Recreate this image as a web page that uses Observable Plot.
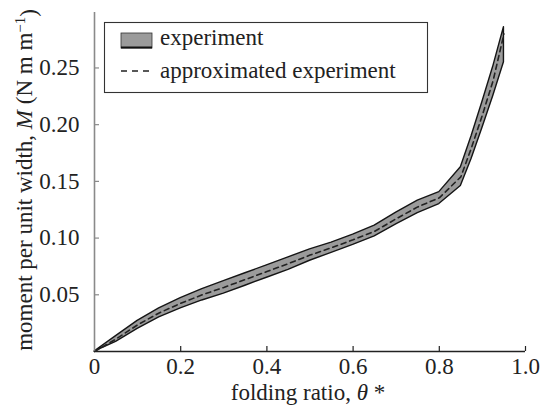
<!DOCTYPE html>
<html>
<head>
<meta charset="utf-8">
<script src="https://cdn.jsdelivr.net/npm/d3@7"></script>
<script src="https://cdn.jsdelivr.net/npm/@observablehq/plot@0.6"></script>
<style>
  html, body { margin: 0; padding: 0; background: #fff; }
  #chart svg { display: block; }
</style>
</head>
<body>
<div id="chart"></div>
<script>
// folding ratio θ*
const theta = [0, 0.05, 0.1, 0.15, 0.2, 0.25, 0.3, 0.35, 0.4, 0.45, 0.5, 0.55, 0.6, 0.65, 0.7, 0.75, 0.8, 0.85, 0.875, 0.9, 0.925, 0.95];
// experiment band, upper and lower bounds (N m m^-1)
const upper = [0, 0.0135, 0.027, 0.038, 0.047, 0.055, 0.062, 0.069, 0.076, 0.083, 0.090, 0.096, 0.103, 0.111, 0.1225, 0.133, 0.1405, 0.1625, 0.190, 0.220, 0.251, 0.286];
const lower = [0, 0.0085, 0.020, 0.030, 0.038, 0.045, 0.051, 0.058, 0.065, 0.072, 0.080, 0.087, 0.094, 0.1015, 0.112, 0.122, 0.130, 0.146, 0.170, 0.197, 0.225, 0.255];
// approximated experiment
const approx = [0, 0.011, 0.0235, 0.034, 0.0425, 0.050, 0.0565, 0.0635, 0.0705, 0.0775, 0.085, 0.0915, 0.0985, 0.106, 0.117, 0.1275, 0.1355, 0.154, 0.180, 0.2085, 0.239, 0.280];

const xTicks = [0, 0.2, 0.4, 0.6, 0.8, 1.0];
const xTickLabels = ["0", "0.2", "0.4", "0.6", "0.8", "1.0"];
const yTicks = [0.05, 0.10, 0.15, 0.20, 0.25];
const yTickLabels = ["0.05", "0.10", "0.15", "0.20", "0.25"];

const legendLabels = ["experiment", "approximated experiment"];

const data = theta.map((t, i) => ({t, lo: lower[i], hi: upper[i], mid: approx[i]}));

const W = 540, H = 410;
const mL = 94, mR = 15, mT = 12, mB = 59;
const plotH = H - mT - mB;
const font = "'Liberation Serif', 'Times New Roman', serif";
const fs = 23;

const chart = Plot.plot({
  width: W,
  height: H,
  marginLeft: mL,
  marginRight: mR,
  marginTop: mT,
  marginBottom: mB,
  style: {fontFamily: font, fontSize: fs + "px", color: "#222", background: "#fff"},
  x: {domain: [0, 1], label: null},
  y: {domain: [0, 0.2989], label: null},
  marks: [
    Plot.areaY(data, {x: "t", y1: "lo", y2: "hi", fill: "#9b9b9b", stroke: "#151515", strokeWidth: 1.4, strokeLinejoin: "round", curve: "linear"}),
    Plot.line(data, {x: "t", y: "mid", stroke: "#222", strokeWidth: 1.6, strokeDasharray: "5,4"}),
    Plot.ruleX([0], {stroke: "#8a8a8a", strokeWidth: 1.6}),
    Plot.ruleY([0], {stroke: "#222", strokeWidth: 1.4}),
    Plot.ruleX(xTicks.slice(1), {x: d => d, stroke: "#222", strokeWidth: 1.2, insetTop: plotH - 5}),
    Plot.ruleY(yTicks, {y: d => d, stroke: "#8a8a8a", strokeWidth: 1.2, insetRight: (W - mL - mR) - 5}),
    Plot.axisX(xTicks, {tickSize: 0, tickPadding: 6, tickFormat: (d, i) => xTickLabels[i], fontSize: fs, fill: "#222", label: null}),
    Plot.axisY(yTicks, {tickSize: 0, tickPadding: 15, tickFormat: (d, i) => yTickLabels[i], fontSize: fs, fill: "#222", label: null})
  ]
});

document.getElementById("chart").appendChild(chart);

const svg = d3.select(chart);

// x-axis label
const xl = svg.append("text")
  .attr("x", 308).attr("y", 400)
  .attr("text-anchor", "middle")
  .attr("font-family", font).attr("font-size", fs).attr("fill", "#222");
xl.append("tspan").text("folding ratio, ");
xl.append("tspan").attr("font-style", "italic").text("θ");
xl.append("tspan").text(" *");

// y-axis label
const yl = svg.append("text")
  .attr("transform", "translate(32,180) rotate(-90)")
  .attr("text-anchor", "middle")
  .attr("font-family", font).attr("font-size", fs).attr("fill", "#222");
yl.append("tspan").text("moment per unit width, ");
yl.append("tspan").attr("font-style", "italic").text("M");
yl.append("tspan").text(" (N m m");
yl.append("tspan").attr("dy", "-0.45em").attr("font-size", fs * 0.65).text("−1");
yl.append("tspan").attr("dy", "0.45em").text(")");

// legend
const lg = svg.append("g").attr("text-anchor", "start");
lg.append("rect").attr("x", 104.5).attr("y", 22.5).attr("width", 323).attr("height", 70)
  .attr("fill", "#fff").attr("stroke", "#333").attr("stroke-width", 1.1);
lg.append("rect").attr("x", 121).attr("y", 33).attr("width", 31).attr("height", 15)
  .attr("fill", "#9b9b9b").attr("stroke", "#333").attr("stroke-width", 0.8);
lg.append("line").attr("x1", 121).attr("x2", 152).attr("y1", 47.5).attr("y2", 47.5)
  .attr("stroke", "#111").attr("stroke-width", 2);
lg.append("line").attr("x1", 121).attr("x2", 152).attr("y1", 71).attr("y2", 71)
  .attr("stroke", "#222").attr("stroke-width", 1.6).attr("stroke-dasharray", "6,5");
lg.append("text").attr("x", 160).attr("y", 45).attr("text-anchor", "start").attr("font-family", font).attr("font-size", fs)
  .attr("fill", "#222").text(legendLabels[0]);
lg.append("text").attr("x", 160).attr("y", 78).attr("text-anchor", "start").attr("font-family", font).attr("font-size", fs)
  .attr("fill", "#222").text(legendLabels[1]);
</script>
</body>
</html>
